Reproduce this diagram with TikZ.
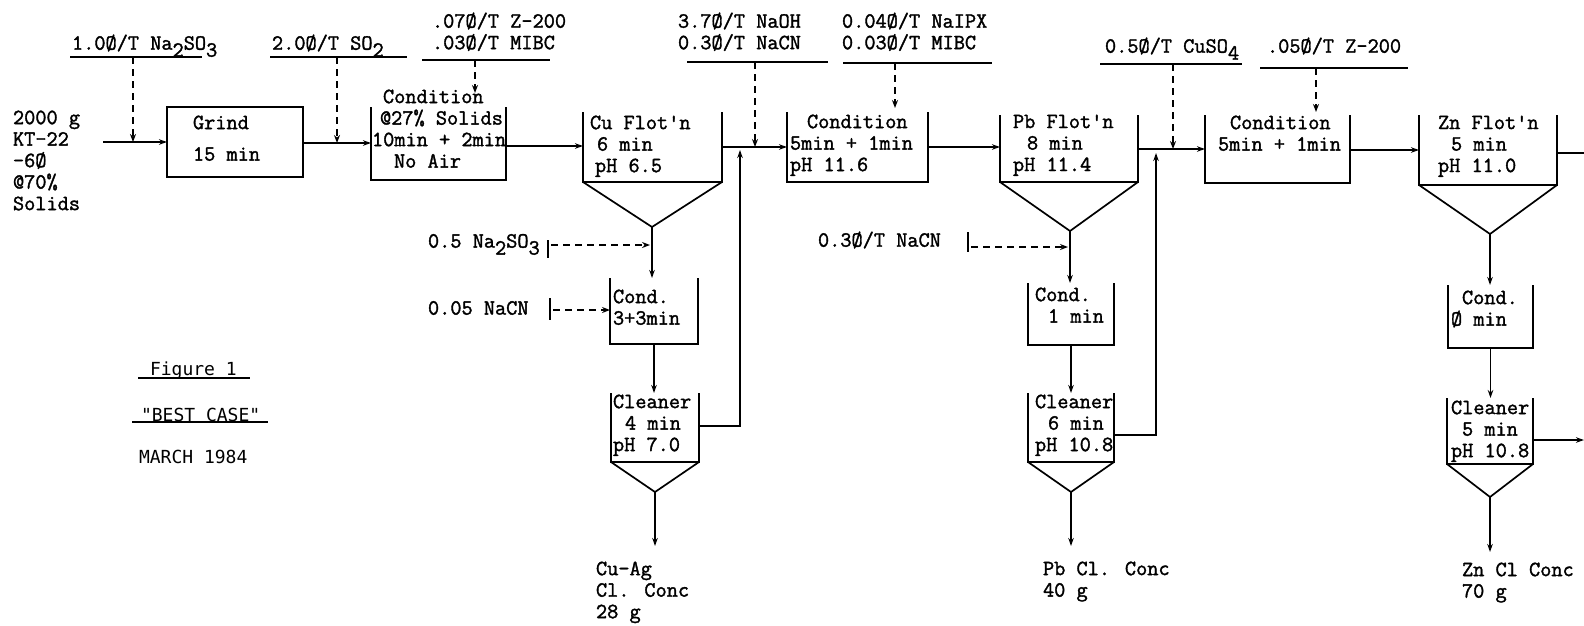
\documentclass[tikz,border=0pt]{standalone}
\usepackage{fontspec}
\newfontfamily\lgf{DejaVu Sans Mono}
\newfontfamily\tw{Latin Modern Mono}[FakeBold=1.6]
\usetikzlibrary{arrows.meta,calc}
\newcommand\lowr[1]{\raisebox{-7pt}{#1}}
\newcommand\twf{\tw\fontsize{21.7}{21.5}\selectfont}
\newcommand\lgfont{\lgf\fontsize{18}{21}\selectfont}
\newcommand\mktank[5]{%
  \node[tankbase, minimum width={#4-#2}, minimum height={#5-#3}] (#1) at ({(#2+#4)/2},{(#3+#5)/2}) {};
  \draw[ln] (#1.north west) -- (#1.south west) -- (#1.south east) -- (#1.north east);}
\newcommand\tx[4]{\node[txt] (#1) at ({#2},{#3-7.4}) {#4};}
\begin{document}
\begin{tikzpicture}[x=1pt,y=-1pt,
  ln/.style={line width=1.7pt},
  flow/.style={ln,-{Stealth[length=8pt,width=5.5pt]}},
  dline/.style={ln,dash pattern=on 7pt off 5pt,-{Stealth[length=8pt,width=6pt]}},
  txt/.style={anchor=north west,inner sep=0pt,outer sep=0pt,align=left,font=\twf,
    execute at begin node={\rule{0pt}{14pt}}},
  lgtxt/.style={anchor=north west,inner sep=0pt,outer sep=0pt,align=left,font=\lgfont,
    execute at begin node={\rule{0pt}{14pt}}},
  tankbase/.style={inner sep=0pt,outer sep=0pt}]
\useasboundingbox (0,0) rectangle (1584,625);

% ---------- feed ----------
\tx{feed}{13}{118}{2000 g\\KT-22\\-6Ø\\@70\%\\Solids}
\coordinate (feedout) at (103,142);

% ---------- grind ----------
\node[draw,ln,inner sep=0pt,outer sep=0pt,minimum width=136,minimum height=70] (grind) at (235,142) {};
\tx{grindt}{193}{123}{Grind\\[10pt]15 min}
\draw[flow] (feedout) -- (grind.west |- feedout);

% reagent 1
\tx{r1}{72}{42}{1.0Ø/T Na\lowr{2}SO\lowr{3}}
\coordinate (r1a) at (70,57); \coordinate (r1b) at (202,57);
\draw[ln] (r1a) -- (r1b);
\coordinate (r1d) at (133,57);
\draw[dline] (r1d) -- (r1d |- feedout);

% ---------- condition 1 ----------
\mktank{c1}{371}{107}{506}{180}
\tx{c1t}{372}{97}{\hspace*{11pt}Condition\\\hspace*{8pt}@27\% Solids\\10min + 2min\\\hspace*{22pt}No Air}
\coordinate (j2) at (303,143);
\draw[flow] (grind.east |- j2) -- (c1.west |- j2);
% reagent 2
\tx{r2}{272}{42}{2.0Ø/T SO\lowr{2}}
\coordinate (r2a) at (270,57); \coordinate (r2b) at (407,57);
\draw[ln] (r2a) -- (r2b);
\coordinate (r2d) at (337,57);
\draw[dline] (r2d) -- (r2d |- j2);
% reagent 3
\tx{r3}{432}{20}{.07Ø/T Z-200\\.03Ø/T MIBC}
\coordinate (r3a) at (422,60); \coordinate (r3b) at (550,60);
\draw[ln] (r3a) -- (r3b);
\coordinate (r3d) at (475,60); \coordinate (r3e) at (475,93);
\draw[dline] (r3d) -- (r3e);

% ---------- Cu flotation ----------
\mktank{cu}{583}{112}{722}{182}
\tx{cut}{590}{123}{Cu Flot'n\\\hspace*{7pt}6 min\\\hspace*{5pt}pH 6.5}
\coordinate (j3) at (506,146);
\draw[flow] (c1.east |- j3) -- (cu.west |- j3);
\coordinate (cuapex) at (652,227);
\draw[ln] (cu.south west) -- (cuapex) -- (cu.south east);

\mktank{cuc}{610}{278}{698}{344}
\tx{cuct}{613}{297}{Cond.\\3+3min}
\draw[flow] (cuapex) -- (cuapex |- cuc.north);

\tx{na2}{428}{241}{0.5 Na\lowr{2}SO\lowr{3}}
\coordinate (na2a) at (548,240); \coordinate (na2b) at (548,258);
\draw[ln] (na2a) -- (na2b);
\coordinate (na2d) at (551,245); \coordinate (na2e) at (650,245);
\draw[dline] (na2d) -- (na2e);

\tx{nacn1}{428}{308}{0.05 NaCN}
\coordinate (nacn1a) at (550,298); \coordinate (nacn1b) at (550,320);
\draw[ln] (nacn1a) -- (nacn1b);
\coordinate (nacn1d) at (553,310);
\draw[dline] (nacn1d) -- (cuc.west |- nacn1d);

\mktank{cucl}{611}{393}{699}{462}
\tx{cuclt}{613}{402}{Cleaner\\\hspace*{12pt}4 min\\pH 7.0}
\draw[flow] (cuc.south) -- (cuc.south |- cucl.north);
\coordinate (cuclapex) at (655,492);
\draw[ln] (cucl.south west) -- (cuclapex) -- (cucl.south east);
\coordinate (cuprod) at (655,546);
\draw[flow] (cuclapex) -- (cuprod);
\tx{cupt}{596}{569}{Cu-Ag\\Cl. Conc\\28 g}
\coordinate (cuback) at (740,150);
\draw[flow] (cucl.east |- 0,426) -| (cuback);

% ---------- condition 2 ----------
\mktank{c2}{787}{112}{928}{182}
\tx{c2t}{790}{122}{\hspace*{17pt}Condition\\5min + 1min\\pH 11.6}
\coordinate (j4) at (722,147);
\draw[flow] (cu.east |- j4) -- (c2.west |- j4);
\tx{r4}{678}{20}{3.7Ø/T NaOH\\0.3Ø/T NaCN}
\coordinate (r4a) at (687,62); \coordinate (r4b) at (828,62);
\draw[ln] (r4a) -- (r4b);
\coordinate (r4d) at (755,62);
\draw[dline] (r4d) -- (r4d |- j4);
\tx{r5}{842}{20}{0.04Ø/T NaIPX\\0.03Ø/T MIBC}
\coordinate (r5a) at (843,63); \coordinate (r5b) at (992,63);
\draw[ln] (r5a) -- (r5b);
\coordinate (r5d) at (895,63); \coordinate (r5e) at (895,108);
\draw[dline] (r5d) -- (r5e);

% ---------- Pb flotation ----------
\mktank{pb}{1000}{115}{1138}{182}
\tx{pbt}{1013}{122}{Pb Flot'n\\\hspace*{14pt}8 min\\pH 11.4}
\coordinate (j5) at (928,147);
\draw[flow] (c2.east |- j5) -- (pb.west |- j5);
\coordinate (pbapex) at (1070,231);
\draw[ln] (pb.south west) -- (pbapex) -- (pb.south east);

\mktank{pbc}{1028}{283}{1114}{345}
\tx{pbct}{1035}{295}{Cond.\\\hspace*{13pt}1 min}
\draw[flow] (pbapex) -- (pbapex |- pbc.north);
\tx{nacn2}{818}{239}{0.3Ø/T NaCN}
\coordinate (nacn2a) at (968,232); \coordinate (nacn2b) at (968,252);
\draw[ln] (nacn2a) -- (nacn2b);
\coordinate (nacn2d) at (971,247); \coordinate (nacn2e) at (1068,247);
\draw[dline] (nacn2d) -- (nacn2e);

\mktank{pbcl}{1028}{393}{1114}{462}
\tx{pbclt}{1035}{402}{Cleaner\\\hspace*{13pt}6 min\\pH 10.8}
\draw[flow] (pbc.south) -- (pbc.south |- pbcl.north);
\coordinate (pbclapex) at (1071,492);
\draw[ln] (pbcl.south west) -- (pbclapex) -- (pbcl.south east);
\coordinate (pbprod) at (1071,546);
\draw[flow] (pbclapex) -- (pbprod);
\tx{pbpt}{1043}{569}{Pb Cl. Conc\\40 g}
\coordinate (pbback) at (1156,153);
\draw[flow] (pbcl.east |- 0,435) -| (pbback);

% ---------- condition 3 ----------
\mktank{c3}{1205}{115}{1350}{183}
\tx{c3t}{1218}{123}{\hspace*{12pt}Condition\\5min + 1min}
\coordinate (j6) at (1138,149);
\draw[flow] (pb.east |- j6) -- (c3.west |- j6);
\tx{r6}{1105}{45}{0.5Ø/T CuSO\lowr{4}}
\coordinate (r6a) at (1100,64); \coordinate (r6b) at (1242,64);
\draw[ln] (r6a) -- (r6b);
\coordinate (r6d) at (1173,64);
\draw[dline] (r6d) -- (r6d |- j6);
\tx{r7}{1267}{45}{.05Ø/T Z-200}
\coordinate (r7a) at (1260,68); \coordinate (r7b) at (1408,68);
\draw[ln] (r7a) -- (r7b);
\coordinate (r7d) at (1316,68); \coordinate (r7e) at (1316,112);
\draw[dline] (r7d) -- (r7e);

% ---------- Zn flotation ----------
\mktank{zn}{1419}{115}{1557}{185}
\tx{znt}{1438}{123}{Zn Flot'n\\\hspace*{13pt}5 min\\pH 11.0}
\coordinate (j7) at (1350,150);
\draw[flow] (c3.east |- j7) -- (zn.west |- j7);
\coordinate (znout) at (1584,153);
\draw[ln] (zn.east |- znout) -- (znout);
\coordinate (znapex) at (1490,234);
\draw[ln] (zn.south west) -- (znapex) -- (zn.south east);

\mktank{znc}{1448}{285}{1533}{348}
\tx{znct}{1451}{298}{\hspace*{11pt}Cond.\\Ø min}
\draw[flow] (znapex) -- (znapex |- znc.north);

\mktank{zncl}{1447}{398}{1533}{464}
\tx{znclt}{1451}{408}{Cleaner\\\hspace*{11pt}5 min\\pH 10.8}
\draw[flow] (znc.south) -- (znc.south |- zncl.north);
\coordinate (znclapex) at (1490,497);
\draw[ln] (zncl.south west) -- (znclapex) -- (zncl.south east);
\coordinate (znprod) at (1490,552);
\draw[flow] (znclapex) -- (znprod);
\tx{znpt}{1462}{570}{Zn Cl Conc\\70 g}
\coordinate (zntail) at (1584,440);
\draw[flow] (zncl.east |- zntail) -- (zntail);

% ---------- caption ----------
\node[lgtxt] (fig) at (150,{369-7.4}) {Figure 1};
\coordinate (figa) at (138,378); \coordinate (figb) at (250,378);
\draw[ln] (figa) -- (figb);
\node[lgtxt] (best) at (141,{415-7.4}) {"BEST CASE"};
\coordinate (besta) at (132,422); \coordinate (bestb) at (268,422);
\draw[ln] (besta) -- (bestb);
\node[lgtxt] (date) at (139,{457-7.4}) {MARCH 1984};
\end{tikzpicture}
\end{document}
